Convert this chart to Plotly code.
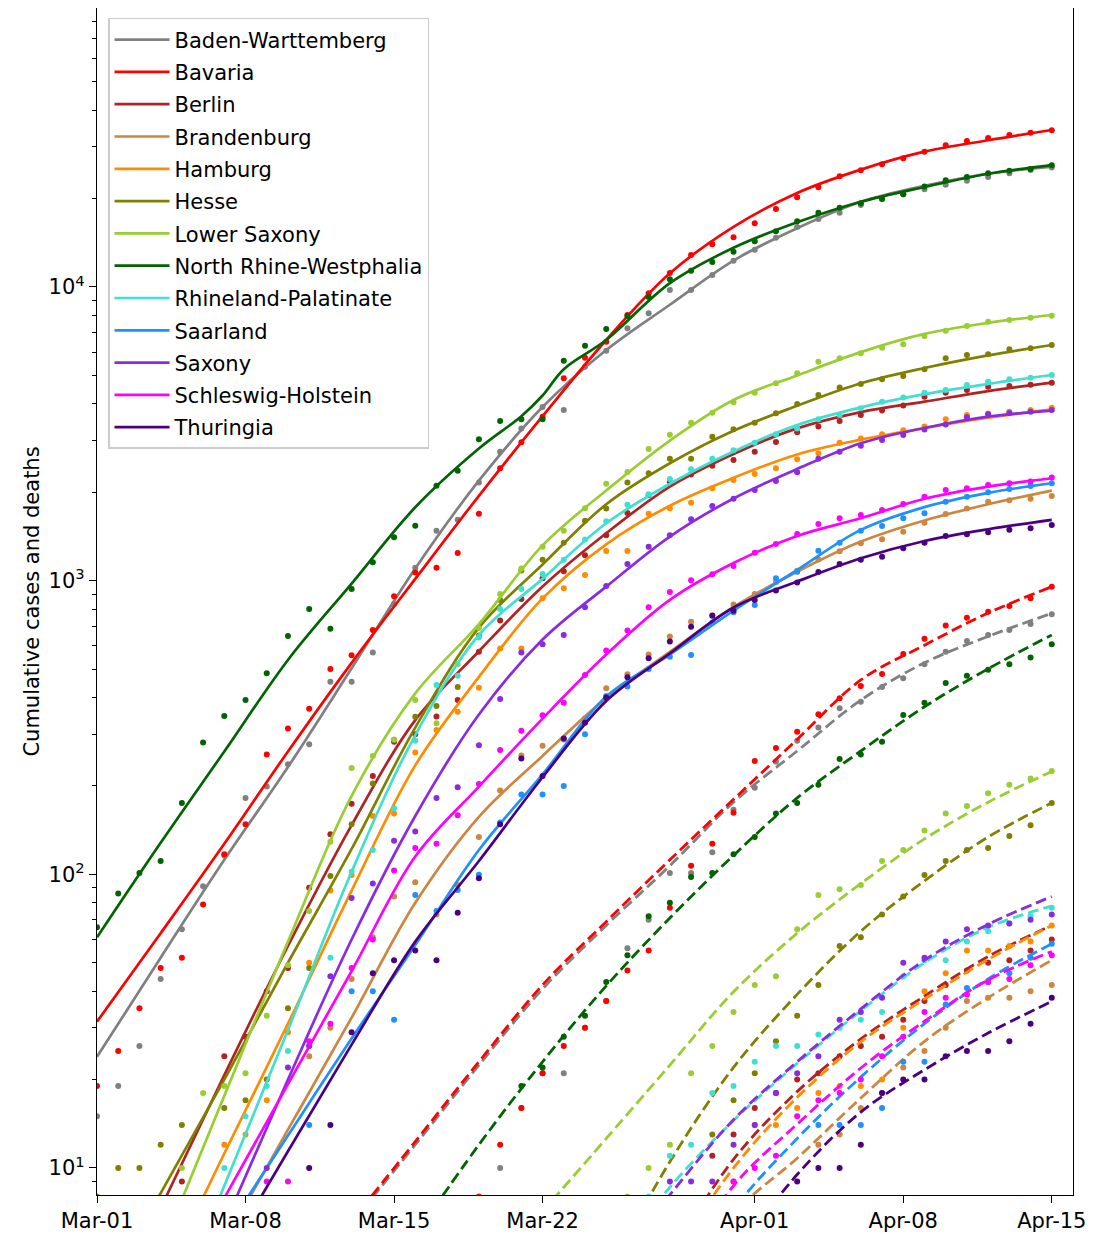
import pandas as pd
import plotly.graph_objects as go

# ---------------- categories ----------------
START = "2020-03-01"
N_DAYS = 46
DATES = pd.date_range(START, periods=N_DAYS, freq="D")
KNOT_DAYS = [0, 3, 6, 9, 12, 15, 18, 21, 24, 27, 30, 33, 36, 39, 42, 45]
NRW_KNOT_DAYS = [0, 3, 6, 9, 12, 15, 18, 20, 21, 22, 24, 27, 30, 33, 36, 39, 42, 45]

STATES = ["Baden-Warttemberg", "Bavaria", "Berlin", "Brandenburg", "Hamburg", "Hesse",
          "Lower Saxony", "North Rhine-Westphalia", "Rhineland-Palatinate", "Saarland",
          "Saxony", "Schleswig-Holstein", "Thuringia"]
COLORS = ["#808080", "#FF0000", "#B22222", "#CD853F", "#FF8C00", "#808000",
          "#9ACD32", "#006400", "#40E0D0", "#1E90FF", "#8A2BE2", "#FF00FF", "#4B0082"]

X_TICK_DATES = ["2020-03-01", "2020-03-08", "2020-03-15", "2020-03-22",
                "2020-04-01", "2020-04-08", "2020-04-15"]
X_TICK_LABELS = ["Mar-01", "Mar-08", "Mar-15", "Mar-22", "Apr-01", "Apr-08", "Apr-15"]
Y_TICK_VALUES = [10, 100, 1000, 10000]
Y_TICK_LABELS = ["10<sup>1</sup>", "10<sup>2</sup>", "10<sup>3</sup>", "10<sup>4</sup>"]

# ---------------- observed cumulative cases (daily) ----------------
bw_cases = [15, 19, 26, 44, 65, 91, 116, 182, 199, 237, 277, 453, 453, 569, 833, 1107, 1479, 1613, 2157, 2750,
            3300, 3900, 3813, 5353, 6069, 7231, 8136, 9768, 9768, 10985, 12290, 13400, 14720, 16000, 17040,
            17900, 19000, 19900, 20700, 21500, 22300, 23000, 23700, 24400, 25000, 25500]
by_cases = [19, 25, 35, 48, 52, 79, 117, 148, 256, 314, 366, 500, 557, 679, 885, 1066, 1107, 1243, 1691, 2414,
            2960, 3616, 4890, 5745, 6510, 8030, 9520, 11150, 12850, 13980, 14770, 16480, 18430, 20200, 21850,
            23820, 24960, 26180, 27420, 28880, 30380, 31420, 32160, 32920, 33530, 34160]
be_cases = [None] * 4 + [9, None, 24, 28, 40, 48, 90, 137, 174, 216, 283, 300, 345, 392, 573, 731, 866, 1019,
                         1077, 1221, 1428, 1700, 1958, 2168, 2300, 2464, 2576, 2750, 2966, 3202, 3350, 3500,
                         3666, 3800, 3950, 4232, 4365, 4460, 4577, 4600, 4650, 4723]
bb_cases = [None] * 10 + [24, 30, 44, 61, 84, 94, 73, 92, 134, 193, 254, 274, 288, 340, 430, 480, 560, 645,
                          725, 763, 830, 900, 990, 1080, 1180, 1260, 1341, 1384, 1468, 1576, 1687, 1759, 1858,
                          1880, 1900, 1942]
hh_cases = [None] * 6 + [12, 13, 17, 29, 50, 88, 99.5, 158, 161, 260, 310, 358, 432, 588, 588, 871, 942, 1046,
                         1262, 1262, 1691, 1764, 1843, 2064, 2203, 2308, 2414, 2590, 2715, 2950, 3050, 3150,
                         3250, 3350, 3543, 3666, 3707, 3763, 3813, 3881]
he_cases = [8, 10, 10, 12, 14, None, 16, 17, 20, 35, 48, 98.7, 148, 204, 287, 344, 374, 434, 650, 860, 1082,
            1177, 1346, 1600, 1759, 2157, 2322, 2603, 2603, 3093, 3278, 3451, 3715, 3996, 4290, 4550, 4677,
            4850, 4977, 5245, 5717, 5870, 5900, 6135, 6190, 6346]
ni_cases = [None] * 4 + [10, 18, 19, 21, 33, 49, 75, 129, 230, 253, 287, 392, 327, 520, 690, 900, 1100, 1305,
                         1479, 1764, 2138, 2344, 2808, 3142, 3451, 3733, 4049, 4365, 4700, 5083, 5568, 5717,
                         5945, 6214, 6380, 6810, 7100, 7365, 7620, 7720, 7863, 7985]
nw_cases = [66, 86, 101, 111, 175, 281, 346, 392, 484, 648, 801, 686, 937, 1155, 1405, 1539, 2106, 2368, 3029,
            3499, 3543, 3543, 5610, 6310, 7194, 7967, 9246, 10622, 11364, 12166, 13189, 14305, 15472, 16734,
            17906, 18600, 19275, 19984, 20688, 22000, 23087, 23692, 24382, 24890, 25224, 25966]
rp_cases = [None] * 6 + [10, 15, 19, 25, 26, 52, 102, 121, 168, 285, 441, 474, 640, 800, 937, 1054, 1177, 1380,
                         1593, 1815, 1968, 2220, 2395, 2600, 2780, 2950, 3150, 3300, 3543, 3666, 3864, 4070,
                         4200, 4365, 4460, 4637, 4761, 4850, 4911, 5015]
sl_cases = [None] * 10 + [14, None, 40, 40, 32, 85, 75, 88.5, 99.6, 150, 187, 187, 200, 300, 405, 436, 500, 551,
                          558, 720, 780, 827, 1019, 1073, 1265, 1346, 1479, 1536, 1631, 1695, 1858, 1930, 2000,
                          2050, 2100, 2146]
sn_cases = [None] * 8 + [10, 22, 26, 45, 83, 93, 130, 140, 182, 198, 275, 395, 569, 607, 653, 812, 959, 1140,
                         1305, 1428, 1618, 1795, 1900, 2037, 2185, 2339, 2600, 2750, 2880, 3013, 3133, 3270,
                         3400, 3600, 3690, 3720, 3760, 3813]
sh_cases = [None] * 8 + [9, 9, 27, 31, 48, 60, 103, 123, 127, 159, 203, 265, 308, 348, 384, 477, 578, 676, 812,
                         915, 1003, 1051, 1122, 1245, 1334, 1442, 1560, 1631, 1674, 1740, 1824, 1932, 2037,
                         2064, 2117, 2146, 2174, 2244]
th_cases = [None] * 10 + [10, 14, 29, 46, 51, 55, 51, 74, 97, 148, 248, 216, 290, 328, 400, 469, 544, 620, 697,
                          760, 790, 860, 925, 985, 1071, 1140, 1177, 1207, 1290, 1346, 1420, 1440, 1461, 1490,
                          1509, 1548]

# ---------------- observed cumulative deaths (daily) ----------------
bw_deaths = [None] * 19 + [10, 16, 21, 21, 30, 37, 56, 70, 101, 101, 119, 166, 197, 242, 285, 316, 368, 387,
                           434, 465, 519, 573, 623, 653, 679, 712, 768]
by_deaths = [None] * 18 + [8, 12, 16, 21, 26, 30, 37, 47, 55, 77, 107, 127, 162, 243, 269, 306, 351, 398, 438,
                           481, 563, 634, 703, 748, 784, 820, 871, 954]
be_deaths = [None] * 29 + [11, 13, 16, 18, 20, 21, 24, 26, 28, 32, 37, 42, 47, 50, 51, 55, 60]
bb_deaths = [None] * 34 + [12, 13, 16, 18, 22, 25, 30, 37, 38, 38, 40, 42]
hh_deaths = [None] * 30 + [9, 14, 14, 16, 18, 19, 19, 20, 30, 40, 46, 55, 55, 57, 59, 67]
he_deaths = [None] * 29 + [13, 17, 21, 27, 33, 42, 57, 61, 73, 84, 99.5, 111, 121, 123, 135, 147, 175]
ni_deaths = [None] * 25 + [8, 10, 12, 21, 26, 34, 42, 45, 65, 85, 89, 92, 111, 121, 141, 161, 171, 189, 202,
                           212, 225]
nw_deaths = [None] * 20 + [19, 22, 28, 33, 43, 53, 72, 80, 98, 101, 117, 134, 161, 175, 202, 247, 256, 283, 349,
                           384, 448, 474, 497, 519, 547, 607]
rp_deaths = [None] * 26 + [8, 11, 12, 18, 19, 23, 26, 26, 28.5, 30, 32, 34, 45, 51, 51, 59, 64, 68, 72, 77]
sl_deaths = [None] * 34 + [14, 14, 14, 16, 23, 23, 36, 41, 43, 46, 52, 58]
sn_deaths = [None] * 27 + [9, 9, 9, 12, 14, 18, 21, 24, 32, 34, 38, 50, 52, 59, 65, 67, 68, 70, 73]
sh_deaths = [None] * 30 + [9, 10, 11, 15, 17, 18, 20, 24, 28, 34, 38, 39, 43, 44, 49, 53]
th_deaths = [None] * 33 + [9, 10, 10, 12, 18, 20, 20, 24, 25, 25, 27, 31, 38]

# ---------------- fitted model curves (values at knot days) ----------------
bw_case_fit = [23.9, 52, 112, 232, 503, 1100, 2190, 3900, 6100, 8700, 12300, 15850, 19500, 22100, 24300, 25700]
by_case_fit = [31.5, 63, 127, 262, 525, 1014, 1945, 3630, 6600, 11130, 16030, 20900, 25100, 28900, 31600, 34240]
be_case_fit = [2.6, 7.3, 20.7, 57, 147, 335, 575, 955, 1450, 2090, 2700, 3300, 3750, 4070, 4420, 4723]
bb_case_fit = [1.0, 2.4, 5.6, 13.5, 32.5, 80, 157, 253, 398, 572, 813, 1072, 1358, 1603, 1820, 2025]
hh_case_fit = [1.5, 4, 11.2, 31, 88, 235, 470, 870, 1330, 1800, 2240, 2690, 3020, 3310, 3590, 3832]
he_case_fit = [3.4, 8.2, 20, 50, 122, 316, 692, 1135, 1820, 2510, 3240, 3940, 4700, 5300, 5850, 6346]
ni_case_fit = [1.5, 5.2, 17.6, 59, 185, 413, 711, 1318, 2028, 3000, 4124, 5000, 6000, 6920, 7550, 8030]
nw_case_fit = [61, 128, 262, 537, 977, 1778, 2818, 3630, 4270, 5250, 6600, 10300, 13600, 16600, 19500, 21900,
               24300, 26000]
rp_case_fit = [0.75, 2.55, 8.7, 29.5, 102, 298, 653, 1014, 1568, 2138, 2754, 3388, 3890, 4315, 4677, 5015]
sl_case_fit = [1.3, 2.8, 6.0, 12.9, 27.6, 57.5, 121, 219, 403, 560, 790, 1087, 1489, 1780, 1990, 2146]
sn_case_fit = [0.67, 2.1, 6.4, 20, 60, 158, 350, 630, 954, 1413, 1905, 2400, 2936, 3310, 3620, 3793]
sh_case_fit = [1.34, 3.3, 7.9, 19.3, 46.8, 115, 199, 339, 560, 860, 1148, 1420, 1631, 1900, 2090, 2232]
th_case_fit = [0.9, 2.1, 4.9, 11.4, 26.3, 59, 111, 214, 389, 565, 810, 993, 1192, 1365, 1496, 1610]

bw_death_fit = [None] * 4 + [6.5, 12, 22.4, 40.7, 67, 107, 176, 263, 392, 525, 646, 774]
by_death_fit = [None] * 4 + [6.6, 12.3, 23, 42, 69, 112, 180, 288, 459, 603, 776, 954]
be_death_fit = [None] * 9 + [5, 10.7, 18.2, 27.5, 38.5, 52.5, 67]
bb_death_fit = [None] * 9 + [2.8, 6.9, 10.8, 17.3, 27, 38, 51]
hh_death_fit = [None] * 9 + [4.8, 10, 17.4, 26.9, 37.6, 51.3, 67]
he_death_fit = [None] * 8 + [4.3, 10.5, 22, 39, 64, 95, 134, 175]
ni_death_fit = [None] * 6 + [4, 7.1, 12.6, 22.4, 39.8, 63, 93, 132, 176, 224]
nw_death_fit = [None] * 5 + [5.9, 12, 23, 41.7, 71, 116, 182, 263, 372, 501, 653]
rp_death_fit = [None] * 8 + [4.5, 8.6, 14.5, 22.7, 34.3, 50, 66, 78]
sl_death_fit = [None] * 9 + [3.2, 7.2, 12.6, 20.4, 31, 44, 58]
sn_death_fit = [None] * 8 + [4.3, 8.1, 14.6, 23, 34.8, 51, 67.5, 84]
sh_death_fit = [None] * 9 + [4, 8.7, 14.1, 21.9, 31.6, 43.7, 54.6]
th_death_fit = [None] * 10 + [5, 9.5, 15.5, 21.6, 28.8, 36.9]

CASES = [bw_cases, by_cases, be_cases, bb_cases, hh_cases, he_cases, ni_cases, nw_cases,
         rp_cases, sl_cases, sn_cases, sh_cases, th_cases]
DEATHS = [bw_deaths, by_deaths, be_deaths, bb_deaths, hh_deaths, he_deaths, ni_deaths, nw_deaths,
          rp_deaths, sl_deaths, sn_deaths, sh_deaths, th_deaths]
CASE_FITS = [bw_case_fit, by_case_fit, be_case_fit, bb_case_fit, hh_case_fit, he_case_fit, ni_case_fit,
             nw_case_fit, rp_case_fit, sl_case_fit, sn_case_fit, sh_case_fit, th_case_fit]
DEATH_FITS = [bw_death_fit, by_death_fit, be_death_fit, bb_death_fit, hh_death_fit, he_death_fit,
              ni_death_fit, nw_death_fit, rp_death_fit, sl_death_fit, sn_death_fit, sh_death_fit,
              th_death_fit]

# ---------------- figure ----------------
fig = go.Figure()
knot_dates = [DATES[d] for d in KNOT_DAYS]
nrw_knot_dates = [DATES[d] for d in NRW_KNOT_DAYS]

for name, color, cases, deaths, cfit, dfit in zip(STATES, COLORS, CASES, DEATHS, CASE_FITS, DEATH_FITS):
    cx = nrw_knot_dates if len(cfit) == len(NRW_KNOT_DAYS) else knot_dates
    fig.add_trace(go.Scatter(x=cx, y=cfit, mode="lines", name=name, legendgroup=name,
                             line=dict(color=color, width=2.7, shape="spline"), showlegend=True,
                             hoverinfo="skip"))
    fig.add_trace(go.Scatter(x=DATES, y=cases, mode="markers", legendgroup=name, showlegend=False,
                             marker=dict(color=color, size=6, line=dict(width=0)), name=name + " cases"))
    fig.add_trace(go.Scatter(x=knot_dates, y=dfit, mode="lines", legendgroup=name, showlegend=False,
                             line=dict(color=color, width=2.8, dash="11px,5px", shape="spline"),
                             name=name + " deaths fit", hoverinfo="skip"))
    fig.add_trace(go.Scatter(x=DATES, y=deaths, mode="markers", legendgroup=name, showlegend=False,
                             marker=dict(color=color, size=6, line=dict(width=0)), name=name + " deaths"))

minor_vals = [m * 10 ** e for e in range(0, 5) for m in range(2, 10)]

# the page body adds an 8px offset, so the figure is sized to fit inside the window
fig.update_layout(
    width=1085, height=1229, autosize=False,
    margin=dict(l=89, r=20, t=0, b=42),
    plot_bgcolor="white", paper_bgcolor="white",
    font=dict(family="DejaVu Sans", size=21, color="black"),
    legend=dict(x=0.0113, y=0.9916, xanchor="left", yanchor="top",
                bgcolor="rgba(255,255,255,0.9)", bordercolor="#cccccc", borderwidth=1.5,
                font=dict(family="DejaVu Sans", size=21, color="black"),
                traceorder="grouped", tracegroupgap=2, itemwidth=55),
)
fig.update_xaxes(
    type="date", range=["2020-03-01", "2020-04-16"],
    tickmode="array", tickvals=X_TICK_DATES, ticktext=X_TICK_LABELS,
    ticks="outside", ticklen=7, tickwidth=1.3, tickcolor="black",
    showline=True, mirror=True, linecolor="black", linewidth=1.3,
    showgrid=False, zeroline=False, tickfont=dict(size=21),
)
fig.update_yaxes(
    type="log", range=[0.908, 4.95],
    tickmode="array", tickvals=Y_TICK_VALUES, ticktext=Y_TICK_LABELS,
    ticks="outside", ticklen=7, tickwidth=1.3, tickcolor="black",
    minor=dict(tickmode="array", tickvals=minor_vals, ticks="outside", ticklen=4, tickwidth=1,
               tickcolor="black", showgrid=False),
    showline=True, mirror=True, linecolor="black", linewidth=1.3,
    showgrid=False, zeroline=False, tickfont=dict(size=21),
    title=dict(text="Cumulative cases and deaths", font=dict(size=21), standoff=3),
)

fig.write_html("out.html")
